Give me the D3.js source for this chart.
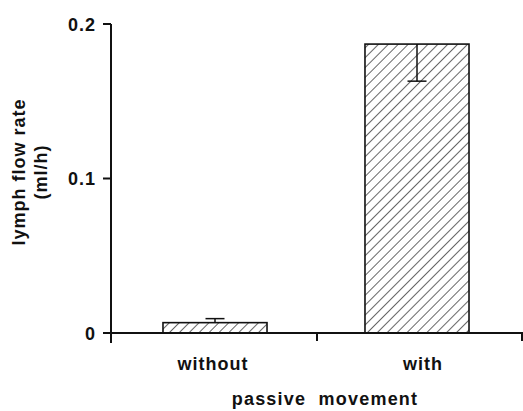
<!DOCTYPE html>
<html>
<head>
<meta charset="utf-8">
<script src="https://cdn.jsdelivr.net/npm/d3@7"></script>
<style>
  html, body { margin: 0; padding: 0; background: #fff; }
  svg { display: block; }
  text { font-family: "Liberation Sans", Arial, Helvetica, sans-serif; font-weight: bold; fill: #111; }
</style>
</head>
<body>
<div id="chart"></div>
<script>
// Lymph flow rate with / without passive movement (hatched bars, one-sided SE)

const categories = ["without", "with"];
const values     = [0.0067, 0.187];
const errEnds    = [0.0093, 0.163];   // end of error whisker (up for "without", down for "with")
const yTicks     = [0, 0.1, 0.2];
const yTickLabels = ["0", "0.1", "0.2"];

const W = 523, H = 411;
const m = { top: 24, right: 0, bottom: 78, left: 111 };
const iw = W - m.left - m.right;
const ih = H - m.top - m.bottom;

const FS = "18px";

const svg = d3.select("#chart").append("svg")
  .attr("width", W).attr("height", H)
  .attr("viewBox", `0 0 ${W} ${H}`);

// hatch pattern "/"
const defs = svg.append("defs");
const pat = defs.append("pattern")
  .attr("id", "hatch")
  .attr("patternUnits", "userSpaceOnUse")
  .attr("width", 7).attr("height", 7)
  .attr("patternTransform", "rotate(45)");
pat.append("rect").attr("width", 7).attr("height", 7).attr("fill", "#fff");
pat.append("line")
  .attr("x1", 0).attr("y1", 0).attr("x2", 0).attr("y2", 7)
  .attr("stroke", "#000").attr("stroke-width", 1.2);

const g = svg.append("g").attr("transform", `translate(${m.left},${m.top})`);

const x = d3.scaleBand().domain(categories).range([0, iw]).paddingInner(0).paddingOuter(0);
const y = d3.scaleLinear().domain([0, 0.2]).range([ih, 0]);

const barW = x.bandwidth() * 0.505;

// Bars
categories.forEach((c, i) => {
  const cx = x(c) + x.bandwidth() / 2 + (i === 0 ? 1 : -3);
  g.append("rect")
    .attr("x", cx - barW / 2)
    .attr("y", y(values[i]))
    .attr("width", barW)
    .attr("height", y(0) - y(values[i]))
    .attr("fill", "url(#hatch)")
    .attr("stroke", "#111")
    .attr("stroke-width", 1.6);

  // error whisker
  g.append("line")
    .attr("x1", cx).attr("x2", cx)
    .attr("y1", y(values[i])).attr("y2", y(errEnds[i]))
    .attr("stroke", "#111").attr("stroke-width", 1.5);
  g.append("line")
    .attr("x1", cx - 9.5).attr("x2", cx + 9.5)
    .attr("y1", y(errEnds[i])).attr("y2", y(errEnds[i]))
    .attr("stroke", "#111").attr("stroke-width", 1.5);
});

// Y axis
g.append("line")
  .attr("x1", 0).attr("x2", 0)
  .attr("y1", y(0.2)).attr("y2", ih + 10)
  .attr("stroke", "#111").attr("stroke-width", 2);

yTicks.forEach((t, i) => {
  g.append("line")
    .attr("x1", -8).attr("x2", 0)
    .attr("y1", y(t)).attr("y2", y(t))
    .attr("stroke", "#111").attr("stroke-width", 2);
  g.append("text")
    .attr("x", -15)
    .attr("y", y(t) + 6.5)
    .attr("text-anchor", "end")
    .attr("font-size", FS)
    .attr("letter-spacing", "1px")
    .text(yTickLabels[i]);
});

// X axis
g.append("line")
  .attr("x1", -8).attr("x2", iw)
  .attr("y1", ih).attr("y2", ih)
  .attr("stroke", "#111").attr("stroke-width", 2);

categories.forEach(c => {
  const tx = Math.min(x(c) + x.bandwidth(), iw - 1);
  g.append("line")
    .attr("x1", tx).attr("x2", tx)
    .attr("y1", ih).attr("y2", ih + 8)
    .attr("stroke", "#111").attr("stroke-width", 2);
  g.append("text")
    .attr("x", x(c) + x.bandwidth() / 2 + (c === "with" ? 3 : -1))
    .attr("y", ih + 37)
    .attr("text-anchor", "middle")
    .attr("font-size", FS)
    .attr("letter-spacing", "1px")
    .text(c);
});

// X axis title
g.append("text")
  .attr("x", 325 - m.left)
  .attr("y", ih + 72)
  .attr("text-anchor", "middle")
  .attr("font-size", FS)
  .attr("letter-spacing", "1.2px")
  .attr("xml:space", "preserve")
  .text("passive  movement");

// Y axis title
svg.append("text")
  .attr("transform", "translate(25,172) rotate(-90)")
  .attr("text-anchor", "middle")
  .attr("font-size", FS)
  .attr("letter-spacing", "1px")
  .text("lymph flow rate");
svg.append("text")
  .attr("transform", "translate(47,172) rotate(-90)")
  .attr("text-anchor", "middle")
  .attr("font-size", FS)
  .attr("letter-spacing", "1px")
  .text("(ml/h)");
</script>
</body>
</html>
